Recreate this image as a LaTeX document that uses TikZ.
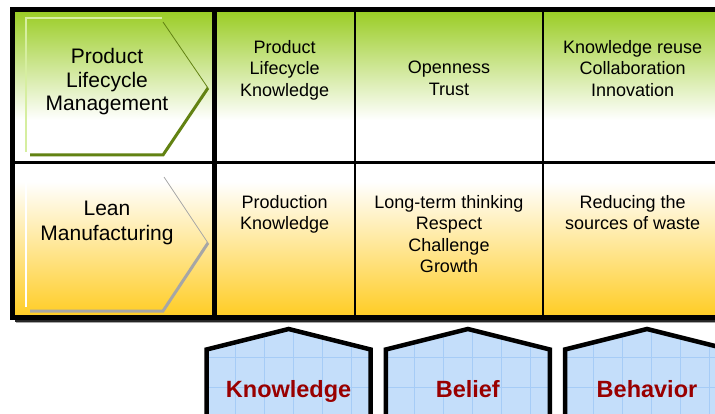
\documentclass[tikz,border=0pt]{standalone}
\usepackage{fontspec}
\setmainfont{Liberation Sans}
\usepackage{tikz}

\definecolor{plmgreen}{RGB}{153,204,34}
\definecolor{leanyellow}{RGB}{255,204,34}
\definecolor{oliveedge}{RGB}{98,130,18}
\definecolor{paleedge}{RGB}{214,238,160}
\definecolor{housefill}{RGB}{196,222,250}
\definecolor{housegrid}{RGB}{166,204,246}
\definecolor{labelred}{RGB}{153,0,0}

\pgfdeclareverticalshading{plmshade}{100bp}{color(0bp)=(white); color(25bp)=(white); color(39bp)=(white); color(75bp)=(plmgreen); color(100bp)=(plmgreen)}
\pgfdeclareverticalshading{leanshade}{100bp}{color(0bp)=(leanyellow); color(25bp)=(leanyellow); color(47bp)=(leanyellow!50!white); color(69bp)=(white); color(100bp)=(white)}

\tikzset{
	rowtitle/.style={align=center, inner sep=0pt, anchor=north, font=\fontsize{21}{23.7}\selectfont},
	celltext/.style={align=center, inner sep=0pt, anchor=north, font=\fontsize{18}{21.4}\selectfont},
	houselabel/.style={inner sep=0pt, anchor=base, text=labelred, font=\fontsize{23.5}{28}\selectfont\bfseries},
}

\begin{document}
\begin{tikzpicture}[x=1pt,y=-1pt]
		\useasboundingbox (0,0) rectangle (715,414);
		% rows with shadow
		\fill[black!85] (15,13) rectangle (730,321.5);
		\fill[black!35] (16,321.5) rectangle (730,323);
		\shade[shading=plmshade] (12.5,9.5) rectangle (730,163);
		\shade[shading=leanshade] (12.5,163) rectangle (730,317.5);
		% chevron of the first row
		\draw[line width=2, paleedge] (26,152) -- (26,18) -- (162,18);
		\draw[line width=0.8, oliveedge] (163,22) -- (208,88);
		\draw[line width=3, oliveedge, line join=miter] (208,88) -- (163,155) -- (30,155);
		% chevron of the second row
		\draw[line width=2, white] (26,307) -- (26,175);
		\draw[line width=0.8, black!35] (164,177) -- (208,243);
		\draw[line width=3, black!35, line join=miter] (208,243) -- (163,311) -- (30,311);
		% table lines
		\draw[line width=2] (355,9.5) -- (355,317.5);
		\draw[line width=2] (543.3,9.5) -- (543.3,317.5);
		\draw[line width=3] (12.5,163) -- (730,163);
		\draw[line width=5] (214,9.5) -- (214,317.5);
		\draw[line width=4.5] (12.5,9.5) rectangle (730,317.5);
		% texts
		\node[rowtitle] (plm) at (107,48) {Product\\Lifecycle\\Management};
		\node[rowtitle] (lean) at (107,200.7) {Lean\\[1.8pt]Manufacturing};
		\node[celltext] (plmknow) at (284.6,40.2) {Product\\Lifecycle\\Knowledge};
		\node[celltext] (plmbelief) at (449,61.2) {Openness\\Trust};
		\node[celltext] (plmbehav) at (632.7,40.2) {Knowledge reuse\\Collaboration\\Innovation};
		\node[celltext] (leanknow) at (284.6,195.2) {Production\\Knowledge};
		\node[celltext] (leanbelief) at (449,195.2) {Long-term thinking\\Respect\\Challenge\\Growth};
		\node[celltext] (leanbehav) at (632.7,195.2) {Reducing the\\sources of waste};
		% houses
		\foreach \cx/\word/\id in {288.6/Knowledge/know, 467.8/Belief/belief, 647/Behavior/behav}{
			\begin{scope}
				\clip (\cx-82,420) -- (\cx-82,349.5) -- (\cx,329) -- (\cx+82,349.5) -- (\cx+82,420) -- cycle;
				\fill[housefill] (\cx-90,320) rectangle (\cx+90,420);
				\foreach \gx in {-3,...,3}
					\draw[housegrid, line width=0.8] (\cx+4.4+29*\gx,320) -- ++(0,100);
				\foreach \gy in {-1,0,1}
					\draw[housegrid, line width=0.8] (\cx-90,357+30*\gy) -- ++(180,0);
			\end{scope}
			\draw[line width=4.5, line join=miter] (\cx-82,420) -- (\cx-82,349.5) -- (\cx,329) -- (\cx+82,349.5) -- (\cx+82,420);
			\node[houselabel] (\id) at (\cx,397) {\word};
		}
		\end{tikzpicture}
\end{document}
